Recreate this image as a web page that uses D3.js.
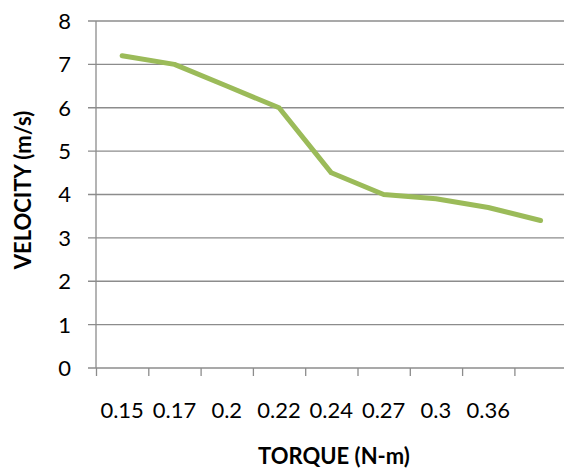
<!DOCTYPE html>
<html>
<head>
<meta charset="utf-8">
<script src="https://cdn.jsdelivr.net/npm/d3@7"></script>
<style>
  body { margin: 0; background: #fff; }
  svg { display: block; font-family: Lato, "Open Sans", sans-serif; }
</style>
</head>
<body>
<svg id="chart" width="564" height="471"></svg>
<script>
// torque categories (last one has no label shown)
var torque = ['0.15', '0.17', '0.2', '0.22', '0.24', '0.27', '0.3', '0.36', ''];
var velocity = [7.2, 7.0, 6.5, 6.0, 4.5, 4.0, 3.9, 3.7, 3.4];
var yTicks = [0, 1, 2, 3, 4, 5, 6, 7, 8];

var svg = d3.select('#chart');
var plotLeft = 96, plotTop = 21, plotBottom = 368, bw = 52.3;
var plotRight = plotLeft + bw * torque.length;

var x = d3.scaleBand()
  .domain(d3.range(torque.length))
  .range([plotLeft, plotRight]);

var xEdge = d3.scaleLinear()
  .domain([0, torque.length])
  .range([plotLeft, plotRight]);

var y = d3.scaleLinear()
  .domain([0, 8])
  .range([plotBottom, plotTop]);

// gridlines
svg.append('g')
  .selectAll('line')
  .data(yTicks).enter()
  .append('line')
  .attr('x1', plotLeft - 8)
  .attr('x2', 564)
  .attr('y1', function(d){ return y(d); })
  .attr('y2', function(d){ return y(d); })
  .attr('stroke', '#8c8c8c')
  .attr('stroke-width', 1.3);

// y labels
svg.append('g')
  .selectAll('text')
  .data(yTicks).enter()
  .append('text')
  .attr('x', 71)
  .attr('y', function(d){ return y(d); })
  .attr('dy', '0.36em')
  .attr('text-anchor', 'end')
  .attr('font-size', '22px')
  .attr('fill', '#000')
  .text(function(d){ return d; });

// vertical axis
svg.append('line')
  .attr('x1', plotLeft).attr('x2', plotLeft)
  .attr('y1', plotTop).attr('y2', plotBottom)
  .attr('stroke', '#8c8c8c')
  .attr('stroke-width', 1.3);

// x ticks at category edges
var xAxis = d3.axisBottom(xEdge)
  .tickValues(d3.range(torque.length + 1))
  .tickSize(8)
  .tickFormat('');

var gx = svg.append('g')
  .attr('transform', 'translate(0,' + plotBottom + ')')
  .call(xAxis);
gx.select('.domain').remove();
gx.selectAll('line')
  .attr('stroke', '#8c8c8c')
  .attr('stroke-width', 1.3);

// x labels
svg.append('g')
  .selectAll('text')
  .data(torque).enter()
  .append('text')
  .attr('x', function(d, i){ return x(i) + x.bandwidth() / 2; })
  .attr('y', 410)
  .attr('dy', '0.36em')
  .attr('text-anchor', 'middle')
  .attr('font-size', '22px')
  .attr('fill', '#000')
  .text(function(d){ return d; });

// data line
var line = d3.line()
  .x(function(d, i){ return x(i) + x.bandwidth() / 2; })
  .y(function(d){ return y(d); });

svg.append('path')
  .datum(velocity)
  .attr('d', line)
  .attr('fill', 'none')
  .attr('stroke', '#9bbb59')
  .attr('stroke-width', 5)
  .attr('stroke-linecap', 'round')
  .attr('stroke-linejoin', 'round');

// axis titles
svg.append('text')
  .attr('x', 334)
  .attr('y', 456)
  .attr('dy', '0.36em')
  .attr('text-anchor', 'middle')
  .attr('font-size', '22px')
  .attr('font-weight', 'bold')
  .text('TORQUE (N-m)');

svg.append('text')
  .attr('transform', 'translate(23,190) rotate(-90)')
  .attr('dy', '0.36em')
  .attr('text-anchor', 'middle')
  .attr('font-size', '22px')
  .attr('font-weight', 'bold')
  .text('VELOCITY (m/s)');
</script>
</body>
</html>
